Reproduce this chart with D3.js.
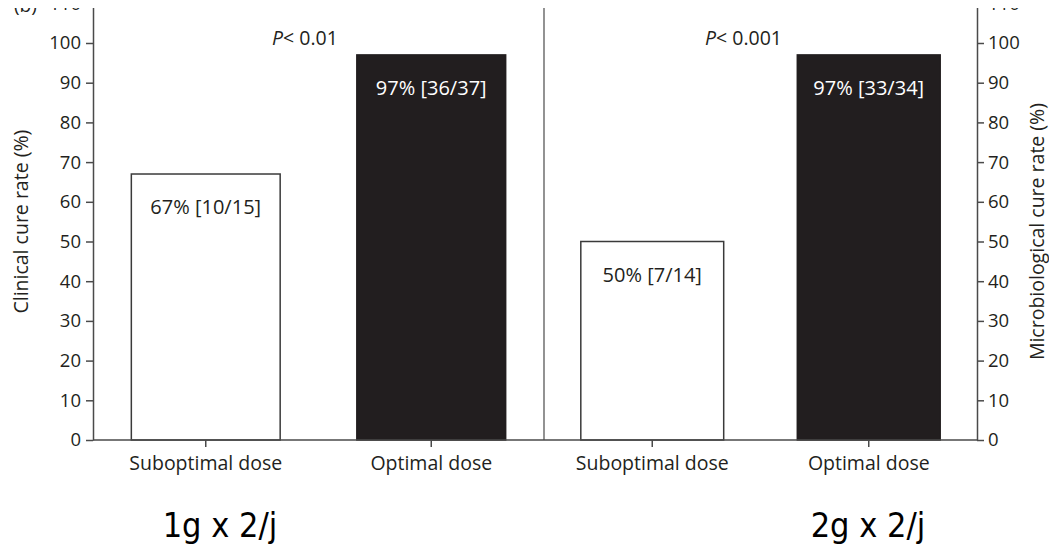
<!DOCTYPE html>
<html>
<head>
<meta charset="utf-8">
<script src="https://cdn.jsdelivr.net/npm/d3@7"></script>
<style>
  html, body { margin: 0; padding: 0; background: #fff; }
  svg { display: block; }
  .lbl { font-family: "Open Sans", "Noto Sans", sans-serif; font-weight: 500; fill: #231f20; }
</style>
</head>
<body>
<svg id="chart" width="1049" height="551"></svg>
<script>
// Cure rates by dose group
const categories = ["Suboptimal dose", "Optimal dose"];
const clinicalRates = [67, 97];
const clinicalLabels = ["67% [10/15]", "97% [36/37]"];
const microRates = [50, 97];
const microLabels = ["50% [7/14]", "97% [33/34]"];
const pValues = ["< 0.01", "< 0.001"];
const regimens = ["1g x 2/j", "2g x 2/j"];
const yTicks = [0, 10, 20, 30, 40, 50, 60, 70, 80, 90, 100, 110];

const svg = d3.select("#chart");
const ink = "#231f20";
const axisInk = "#4a4a4a";

const plotLeft = 93, plotMid = 544, plotRight = 977, plotBase = 440, plotTop = 3.3;

const y = d3.scaleLinear().domain([0, 110]).range([plotBase, plotTop]);

const xLeft = d3.scaleBand().domain(categories).range([plotLeft, plotMid])
  .paddingInner(0.34).paddingOuter(0.17);
const xRight = d3.scaleBand().domain(categories).range([plotMid, plotRight])
  .paddingInner(0.34).paddingOuter(0.17);

// plotting area, trimmed at the top edge
svg.append("defs").append("clipPath").attr("id", "frame")
  .append("rect").attr("x", 0).attr("y", 8).attr("width", 1049).attr("height", 543);
const g = svg.append("g").attr("clip-path", "url(#frame)");

// panel letter
g.append("text").attr("class", "lbl").attr("x", 14).attr("y", 12)
  .attr("font-size", 19).text("(b)");

function drawPanel(x, rates, labels, p, pX) {
  const bars = g.append("g");
  bars.selectAll("rect").data(categories).join("rect")
    .attr("x", d => x(d))
    .attr("width", x.bandwidth())
    .attr("y", (d, i) => y(rates[i]))
    .attr("height", (d, i) => plotBase - y(rates[i]))
    .attr("fill", (d, i) => i === 0 ? "#fff" : "#221e1f")
    .attr("stroke", (d, i) => i === 0 ? "#3a3a3a" : "#221e1f")
    .attr("stroke-width", 1.5);
  bars.selectAll("text").data(categories).join("text")
    .attr("class", "lbl")
    .attr("x", d => x(d) + x.bandwidth() / 2)
    .attr("y", (d, i) => y(rates[i]) + 40)
    .attr("text-anchor", "middle")
    .attr("font-size", 20)
    .style("fill", (d, i) => i === 0 ? ink : "#fff")
    .text((d, i) => labels[i]);
  const pt = g.append("text").attr("class", "lbl")
    .attr("x", pX).attr("y", 45).attr("font-size", 19.5);
  pt.append("tspan").attr("font-style", "italic").text("P");
  pt.append("tspan").text(p);

  // category axis
  const ax = g.append("g").attr("transform", `translate(0,${plotBase})`)
    .call(d3.axisBottom(x).tickSize(7).tickSizeOuter(0).tickPadding(9));
  ax.select(".domain").remove();
  ax.selectAll("line").attr("stroke", axisInk).attr("stroke-width", 1.5);
  ax.selectAll("text").attr("class", "lbl").attr("font-size", 19.5)
    .attr("font-family", "\"Open Sans\", sans-serif").attr("fill", ink);
}

drawPanel(xLeft, clinicalRates, clinicalLabels, pValues[0], 272);
drawPanel(xRight, microRates, microLabels, pValues[1], 705);

// baseline and divider
g.append("line").attr("x1", plotLeft).attr("x2", plotRight).attr("y1", plotBase).attr("y2", plotBase)
  .attr("stroke", axisInk).attr("stroke-width", 1.5);
g.append("line").attr("x1", plotMid).attr("x2", plotMid).attr("y1", y(110)).attr("y2", plotBase)
  .attr("stroke", axisInk).attr("stroke-width", 1.2);

// value axes
function styleAxis(sel) {
  sel.select(".domain").attr("stroke", axisInk).attr("stroke-width", 1.5);
  sel.selectAll("line").attr("stroke", axisInk).attr("stroke-width", 1.5);
  sel.selectAll("text").attr("class", "lbl").attr("font-size", 18.5)
    .attr("font-family", "\"Open Sans\", sans-serif").attr("fill", ink);
}
g.append("g").attr("transform", `translate(${plotLeft},0)`)
  .call(d3.axisLeft(y).tickValues(yTicks).tickSize(7).tickSizeOuter(0).tickPadding(5))
  .call(styleAxis);
g.append("g").attr("transform", `translate(${plotRight},0)`)
  .call(d3.axisRight(y).tickValues(yTicks).tickSize(7).tickSizeOuter(0).tickPadding(4))
  .call(styleAxis);

// axis titles
g.append("text").attr("class", "lbl").attr("font-size", 19.5)
  .attr("text-anchor", "middle")
  .attr("transform", `translate(28,${y(55)}) rotate(-90)`)
  .text("Clinical cure rate (%)");
g.append("text").attr("class", "lbl").attr("font-size", 19.5)
  .attr("text-anchor", "middle")
  .attr("transform", `translate(1044,${y(52.5)}) rotate(-90)`)
  .text("Microbiological cure rate (%)");

// dosing regimens under each panel
svg.selectAll(".regimen").data(regimens).join("text")
  .attr("class", "regimen")
  .attr("x", (d, i) => i === 0 ? 220 : 868)
  .attr("y", 537)
  .attr("text-anchor", "middle")
  .attr("font-family", "\"Liberation Sans Narrow\", \"DejaVu Sans Condensed\", sans-serif")
  .attr("font-size", 34)
  .attr("fill", "#000")
  .text(d => d);
</script>
</body>
</html>
